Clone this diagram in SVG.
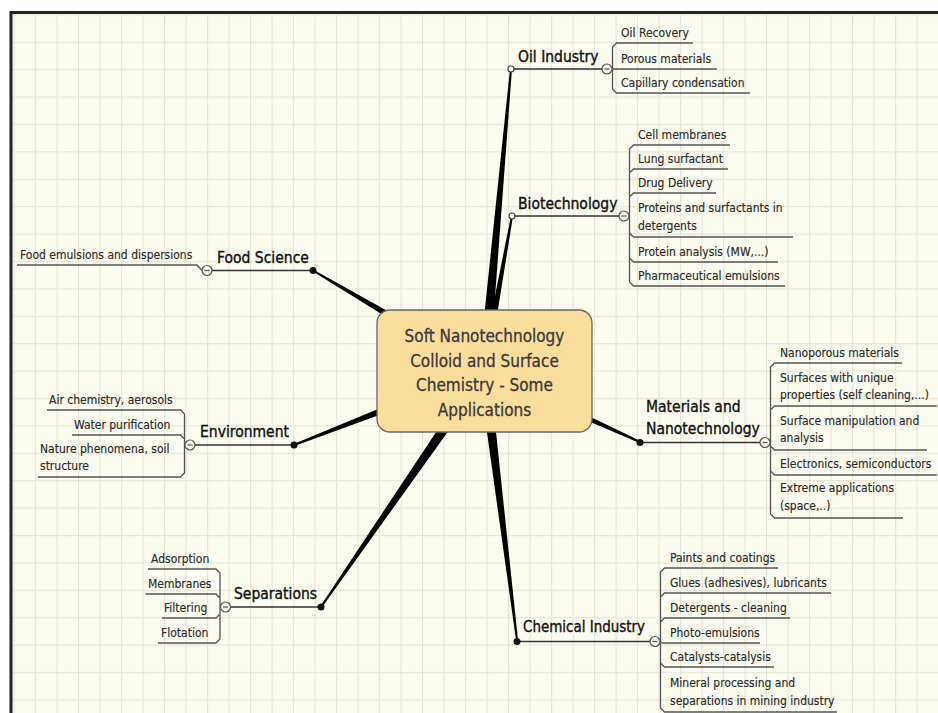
<svg xmlns="http://www.w3.org/2000/svg" width="938" height="713" viewBox="0 0 938 713">
<style>
text{font-family:"DejaVu Sans Condensed","DejaVu Sans",sans-serif;font-stretch:condensed;fill:#222}
.h{font-size:15.5px;fill:#111;stroke:#111;stroke-width:0.35}
.c{font-size:12px;fill:#2a2a2a;stroke:#2a2a2a;stroke-width:0.15}
.t{font-size:17px;fill:#3a3a3a;text-anchor:middle;stroke:#3a3a3a;stroke-width:0.3}
.w{fill:#000}
.hl{fill:none;stroke:#333;stroke-width:1.5}
.cl{fill:none;stroke:#555;stroke-width:1.3}
.dot{fill:#111}
.hd{fill:#fff;stroke:#444;stroke-width:1.2}
.col{fill:#f6f6ec;stroke:#555;stroke-width:1.2}
.mn{stroke:#555;stroke-width:1.2}
</style>
<defs>
<pattern id="grid" patternUnits="userSpaceOnUse" x="13.5" y="14.3" width="21.5" height="27.4">
<rect width="21.5" height="27.4" fill="#fcfcf1"/>
<path d="M0,0.5 H21.5 M0.5,0 V27.4" stroke="#e6e6d9" stroke-width="1.3" fill="none"/>
</pattern>
<symbol id="collapse" overflow="visible"><circle cx="0" cy="0" r="5" class="col"/><path d="M-2.5,0 H2.5" class="mn"/></symbol>
</defs>
<rect width="938" height="713" fill="#fff"/>
<rect x="11" y="12" width="927" height="701" fill="url(#grid)"/>
<path d="M9.5,12.5 H938 M11,11 V713" stroke="#222" stroke-width="3" fill="none"/>

<g id="connectors">
<polygon class="w" points="489.48,371.49 511.99,69.09 510,68.91 478.52,370.51"/>
<polygon class="w" points="487.94,371.71 512.98,216.18 511.02,215.82 480.06,370.29"/>
<polygon class="w" points="486.8,366.26 313.51,269.64 312.49,271.36 481.2,375.74"/>
<polygon class="w" points="482,365.88 293.64,444.07 294.36,445.93 486,376.12"/>
<polygon class="w" points="479.06,367.59 320.18,606.43 321.82,607.57 488.94,374.41"/>
<polygon class="w" points="478.54,371.67 516.01,640.12 517.99,639.88 489.46,370.33"/>
<polygon class="w" points="481.93,375.55 639.59,442.91 640.41,441.09 486.07,366.45"/>
<path class="hl" d="M511,69 H602 M512,216 H619 M313,270.5 H212 M294,445 H195 M321,607 H231 M640,442.5 H760 M517,641.5 H650"/>
<path class="cl" d="M612.5,69 V47 L616.5,43 H693 M612,69 H717 M612.5,69 V89 L616.5,93 H750"/>
<path class="cl" d="M629.5,216 V149 L633.5,145 H730 M629.5,216 V173 L633.5,169 H728 M629.5,216 V197 L633.5,193 H716 M629.5,216 V233 L633.5,237 H793 M629.5,216 V258 L633.5,262 H778 M629.5,216 V282 L633.5,286 H785"/>
<path class="cl" d="M202,270.5 L197,265 H17"/>
<path class="cl" d="M184.5,445 V414 L180.5,410 H47 M184.5,445 V439 L180.5,435 H72 M184.5,445 V473 L180.5,477 H38"/>
<path class="cl" d="M220,607 V573 L216,569 H148 M220,607 V598 L216,594 H145.5 M220,607 V614 L216,618 H162 M220,607 V639 L216,643 H158"/>
<path class="cl" d="M770.5,442.5 V367 L774.5,363 H902 M770.5,442.5 V410 L774.5,406 H937 M770.5,442.5 V446 L774.5,450 H927 M770.5,442.5 V471 L774.5,475 H937 M770.5,442.5 V514 L774.5,518 H903"/>
<path class="cl" d="M660.5,641.5 V572 L664.5,568 H778 M660.5,641.5 V597 L664.5,593 H831 M660.5,641.5 V622 L664.5,618 H790 M660,641.5 L662.5,643 H760 M660.5,641.5 V663 L664.5,667 H774 M660.5,641.5 V708 L664.5,712 H837"/>
</g>

<g id="center">
<rect x="377" y="310" width="215" height="122" rx="13" fill="#fbdd9c" stroke="#666" stroke-width="1.3"/>
<text class="t" x="484.5" y="342">Soft Nanotechnology</text>
<text class="t" x="484.5" y="366.5">Colloid and Surface</text>
<text class="t" x="484.5" y="391">Chemistry - Some</text>
<text class="t" x="484.5" y="415.5">Applications</text>
</g>

<g id="oil-industry">
<circle cx="511" cy="69" r="3" class="hd"/>
<text class="h" x="518" y="62">Oil Industry</text>
<use href="#collapse" x="607" y="69"/>
<g id="oil-recovery"><text class="c" x="621" y="37">Oil Recovery</text></g>
<g id="porous-materials"><text class="c" x="621" y="63">Porous materials</text></g>
<g id="capillary-condensation"><text class="c" x="621" y="87">Capillary condensation</text></g>
</g>

<g id="biotechnology">
<circle cx="512" cy="216" r="3" class="hd"/>
<text class="h" x="518" y="209">Biotechnology</text>
<use href="#collapse" x="624" y="216"/>
<g id="cell-membranes"><text class="c" x="638" y="139">Cell membranes</text></g>
<g id="lung-surfactant"><text class="c" x="638" y="163">Lung surfactant</text></g>
<g id="drug-delivery"><text class="c" x="638" y="187">Drug Delivery</text></g>
<g id="proteins-surfactants"><text class="c" x="638" y="212">Proteins and surfactants in</text><text class="c" x="638" y="230">detergents</text></g>
<g id="protein-analysis"><text class="c" x="638" y="256">Protein analysis (MW,...)</text></g>
<g id="pharmaceutical-emulsions"><text class="c" x="638" y="280">Pharmaceutical emulsions</text></g>
</g>

<g id="food-science">
<circle cx="313" cy="270.5" r="3.5" class="dot"/>
<text class="h" x="217" y="263">Food Science</text>
<use href="#collapse" x="207" y="270.5"/>
<g id="food-emulsions"><text class="c" x="20" y="259">Food emulsions and dispersions</text></g>
</g>

<g id="environment">
<circle cx="294" cy="445" r="3.5" class="dot"/>
<text class="h" x="200" y="437">Environment</text>
<use href="#collapse" x="190" y="445"/>
<g id="air-chemistry"><text class="c" x="49" y="404">Air chemistry, aerosols</text></g>
<g id="water-purification"><text class="c" x="74" y="429">Water purification</text></g>
<g id="nature-phenomena"><text class="c" x="40" y="453">Nature phenomena, soil</text><text class="c" x="40" y="470">structure</text></g>
</g>

<g id="separations">
<circle cx="321" cy="607" r="3.5" class="dot"/>
<text class="h" x="234" y="599">Separations</text>
<use href="#collapse" x="225.5" y="607"/>
<g id="adsorption"><text class="c" x="151" y="563">Adsorption</text></g>
<g id="membranes"><text class="c" x="148" y="588">Membranes</text></g>
<g id="filtering"><text class="c" x="164" y="612">Filtering</text></g>
<g id="flotation"><text class="c" x="161" y="637">Flotation</text></g>
</g>

<g id="materials-nanotechnology">
<circle cx="640" cy="442.5" r="3.5" class="dot"/>
<text class="h" x="646" y="412">Materials and</text>
<text class="h" x="646" y="434">Nanotechnology</text>
<use href="#collapse" x="765" y="442.5"/>
<g id="nanoporous-materials"><text class="c" x="780" y="357">Nanoporous materials</text></g>
<g id="surfaces-unique"><text class="c" x="780" y="382">Surfaces with unique</text><text class="c" x="780" y="399">properties (self cleaning,...)</text></g>
<g id="surface-manipulation"><text class="c" x="780" y="425">Surface manipulation and</text><text class="c" x="780" y="442">analysis</text></g>
<g id="electronics"><text class="c" x="780" y="468">Electronics, semiconductors</text></g>
<g id="extreme-applications"><text class="c" x="780" y="492">Extreme applications</text><text class="c" x="780" y="510">(space,..)</text></g>
</g>

<g id="chemical-industry">
<circle cx="517" cy="641.5" r="3.5" class="dot"/>
<text class="h" x="523" y="632" textLength="122" lengthAdjust="spacingAndGlyphs">Chemical Industry</text>
<use href="#collapse" x="655" y="641.5"/>
<g id="paints-coatings"><text class="c" x="670" y="562">Paints and coatings</text></g>
<g id="glues"><text class="c" x="670" y="587">Glues (adhesives), lubricants</text></g>
<g id="detergents"><text class="c" x="670" y="612">Detergents - cleaning</text></g>
<g id="photo-emulsions"><text class="c" x="670" y="637">Photo-emulsions</text></g>
<g id="catalysts"><text class="c" x="670" y="661">Catalysts-catalysis</text></g>
<g id="mineral-processing"><text class="c" x="670" y="687">Mineral processing and</text><text class="c" x="670" y="705">separations in mining industry</text></g>
</g>
</svg>
